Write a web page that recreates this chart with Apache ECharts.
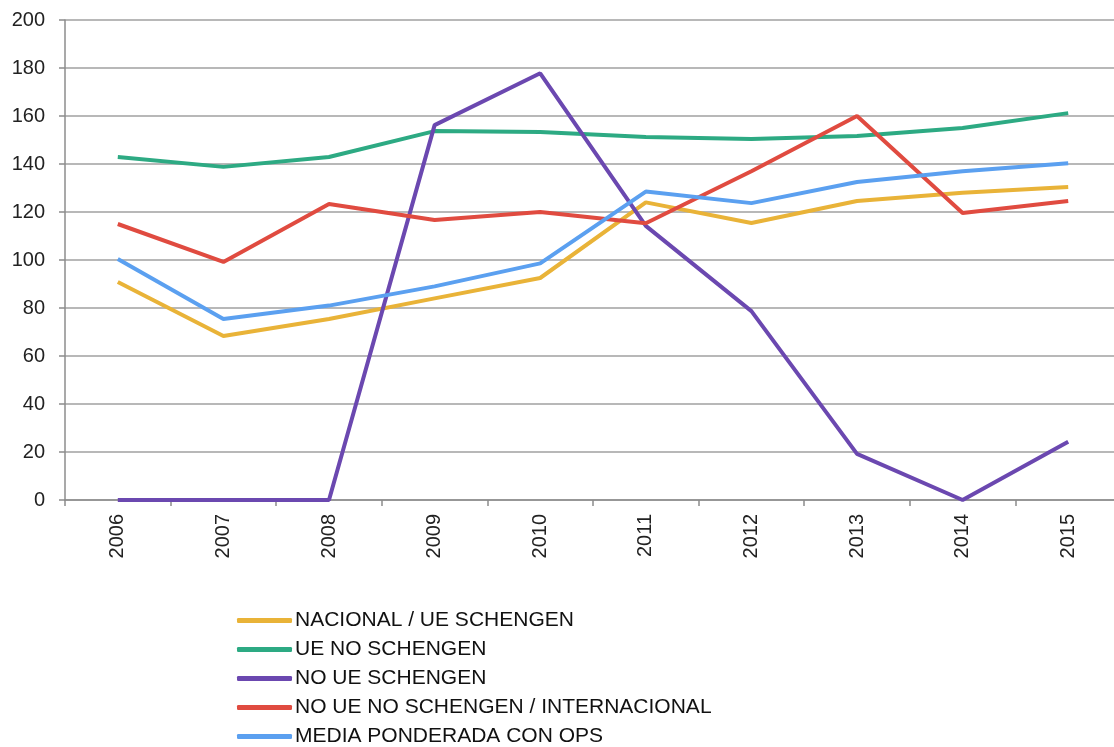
<!DOCTYPE html>
<html>
<head>
<meta charset="utf-8">
<script src="https://cdn.jsdelivr.net/npm/echarts@6/dist/echarts.min.js"></script>
<style>
html,body{margin:0;padding:0;background:#fff;}
#main_chart{width:1114px;height:747px;}
</style>
</head>
<body>
<div id="main_chart"></div>
<script>
//datos
var years = ["2006","2007","2008","2009","2010","2011","2012","2013","2014","2015"];
var seriesNames = ["NACIONAL / UE SCHENGEN","UE NO SCHENGEN","NO UE SCHENGEN","NO UE NO SCHENGEN / INTERNACIONAL","MEDIA PONDERADA CON OPS"];
var nacionalUeSchengen = [90.8, 68.3, 75.4, 84, 92.5, 124, 115.4, 124.6, 128, 130.4];
var ueNoSchengen = [142.9, 138.8, 142.9, 153.7, 153.3, 151.2, 150.4, 151.7, 155, 161.2];
var noUeSchengen = [0, 0, 0, 156.2, 177.8, 114.2, 78.7, 19.2, 0, 24.3];
var noUeNoSchengen = [115, 99.2, 123.3, 116.7, 120, 115.3, 137, 160, 119.6, 124.6];
var mediaPonderada = [100.4, 75.4, 81, 89, 98.6, 128.5, 123.7, 132.5, 137, 140.3];
var yTicks = {min: 0, max: 200, interval: 20};
var lineColors = ["#E9B338","#2DAA83","#6B48B0","#E04B40","#5BA0F0"];

var axis_label = { color: "#222", fontFamily: "Liberation Sans, Arial, sans-serif", fontSize: 20 };
var axis_line = { show: true, lineStyle: { color: "#8c8c8c", width: 1.5 } };

var chart = echarts.init(document.getElementById("main_chart"));
var allData = [nacionalUeSchengen, ueNoSchengen, noUeSchengen, noUeNoSchengen, mediaPonderada];
var series = [];
for(var i = 0; i < seriesNames.length; i++){
    series.push({
        name: seriesNames[i],
        type: "line",
        data: allData[i],
        showSymbol: false,
        symbol: "none",
        lineStyle: { width: 4, color: lineColors[i] },
        itemStyle: { color: lineColors[i] }
    });
}
var option = {
    animation: false,
    color: lineColors,
    grid: { left: 65, top: 20, width: 1056, bottom: 247, containLabel: false, outerBoundsMode: "none" },
    legend: {
        orient: "vertical",
        left: 237,
        top: 610,
        height: 160,
        padding: 0,
        itemWidth: 55,
        itemHeight: 5,
        itemGap: 8,
        icon: "roundRect",
        textStyle: { color: "#111", fontFamily: "Liberation Sans, Arial, sans-serif", fontSize: 21, lineHeight: 21, padding: [0,0,0,-2] },
        data: seriesNames
    },
    xAxis: {
        type: "category",
        data: years,
        boundaryGap: true,
        axisLine: axis_line,
        axisTick: { show: true, length: 6, interval: 0, lineStyle: { color: "#8c8c8c", width: 1.5 } },
        axisLabel: Object.assign({ rotate: 90, margin: 14, interval: 0 }, axis_label),
        splitLine: { show: false }
    },
    yAxis: {
        type: "value",
        min: yTicks.min,
        max: yTicks.max,
        interval: yTicks.interval,
        axisLine: axis_line,
        axisTick: { show: true, length: 6, lineStyle: { color: "#8c8c8c", width: 1.5 } },
        axisLabel: Object.assign({ margin: 20 }, axis_label),
        splitLine: { show: true, lineStyle: { color: "#a0a0a0", width: 1.5 } }
    },
    series: series
};
chart.setOption(option, true);
</script>
</body>
</html>
